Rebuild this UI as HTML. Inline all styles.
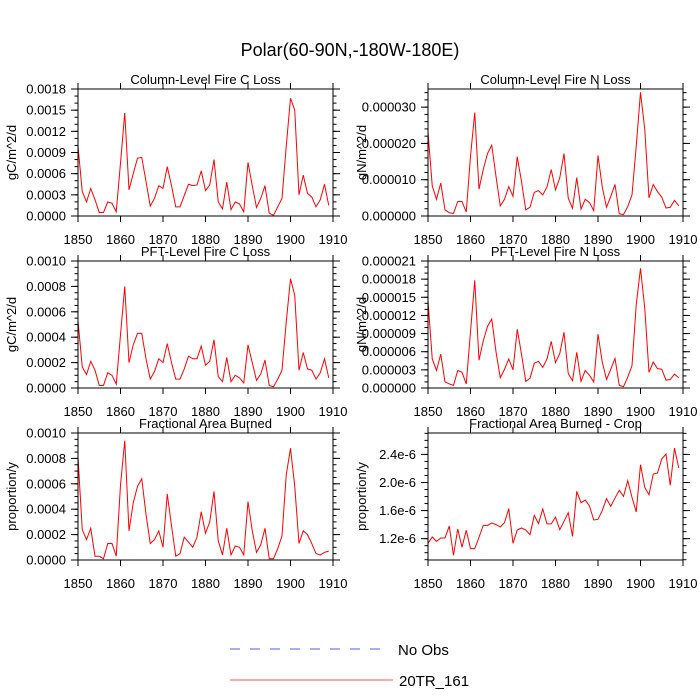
<!DOCTYPE html>
<html><head><meta charset="utf-8"><style>
html,body{margin:0;padding:0;background:#fff;}
svg{display:block;font-family:"Liberation Sans",Arial,sans-serif;}
</style></head><body>
<svg id="chart" width="700" height="700" viewBox="0 0 700 700">
<text x="350" y="56" font-size="18" text-anchor="middle">Polar(60-90N,-180W-180E)</text>
<g id="panels"></g>
<g>
<line x1="230" y1="649" x2="386" y2="649" stroke="#5a5ae6" stroke-width="1" stroke-dasharray="10,10"/>
<text x="398" y="655" font-size="15">No Obs</text>
<line x1="230" y1="680" x2="393" y2="680" stroke="#ff5555" stroke-width="1"/>
<text x="399" y="686" font-size="15">20TR_161</text>
</g>
</svg>
<script>
const years = [];
for (let y = 1850; y <= 1909; y++) years.push(y);
const xTicks = [1850,1860,1870,1880,1890,1900,1910];

const colC = [0.00099,0.000346,0.0002,0.00039,0.00023,0.00005,0.00005,0.0002,0.00018,0.00006,0.00075,0.00146,0.00037,0.0006,0.00082,0.00083,0.00049,0.00014,0.00025,0.00043,0.00039,0.0007,0.00043,0.00013,0.00013,0.00029,0.00045,0.00043,0.00044,0.00064,0.00036,0.00044,0.0008,0.0002,0.0001,0.00048,0.00009,0.0002,0.00017,0.00006,0.00076,0.00043,0.00012,0.00025,0.00043,0.00004,0.00001,0.00013,0.00025,0.00099,0.00167,0.0015,0.0003,0.00058,0.00032,0.00027,0.00013,0.00023,0.00045,0.00015];
const colN = [2.31e-5,0.83e-5,0.46e-5,0.91e-5,0.17e-5,0.09e-5,0.07e-5,0.4e-5,0.4e-5,0.11e-5,1.65e-5,2.85e-5,0.74e-5,1.28e-5,1.72e-5,1.95e-5,1.09e-5,0.28e-5,0.46e-5,0.81e-5,0.54e-5,1.63e-5,0.95e-5,0.17e-5,0.24e-5,0.65e-5,0.7e-5,0.58e-5,0.8e-5,1.28e-5,0.72e-5,1.05e-5,1.72e-5,0.49e-5,0.21e-5,1.06e-5,0.19e-5,0.46e-5,0.37e-5,0.15e-5,1.67e-5,0.8e-5,0.24e-5,0.54e-5,0.87e-5,0.06e-5,0.04e-5,0.26e-5,0.58e-5,1.93e-5,3.41e-5,2.39e-5,0.5e-5,0.87e-5,0.67e-5,0.52e-5,0.22e-5,0.24e-5,0.43e-5,0.28e-5];
const pftC = [0.00053,0.000166,0.000105,0.00021,0.00014,0.00002,0.00002,0.00012,0.0001,0.00003,0.00042,0.0008,0.0002,0.00034,0.00043,0.00043,0.00023,0.00007,0.00013,0.00023,0.0002,0.00035,0.0002,0.00007,0.00007,0.00015,0.00025,0.00023,0.00023,0.00033,0.00018,0.00021,0.00038,0.00009,0.00005,0.00024,0.00005,0.0001,0.00008,0.00004,0.00034,0.0002,0.00006,0.00011,0.00022,0.00002,0.00001,0.00007,0.00014,0.00052,0.00086,0.00073,0.00014,0.00028,0.00015,0.00014,0.00007,0.00012,0.00023,0.00008];
const pftN = [14.4e-6,4.8e-6,2.9e-6,5.6e-6,1.0e-6,0.67e-6,0.44e-6,2.9e-6,2.6e-6,0.67e-6,9.3e-6,17.8e-6,4.6e-6,7.8e-6,10.2e-6,11.4e-6,6.0e-6,1.7e-6,3.1e-6,4.8e-6,3.0e-6,9.7e-6,5.6e-6,1.1e-6,1.6e-6,4.1e-6,4.4e-6,3.4e-6,4.8e-6,7.7e-6,4.2e-6,5.7e-6,9.2e-6,2.4e-6,1.2e-6,5.9e-6,1.1e-6,2.9e-6,2.1e-6,1.0e-6,8.9e-6,4.3e-6,1.4e-6,3.1e-6,4.9e-6,0.44e-6,0.22e-6,1.8e-6,3.7e-6,13.8e-6,19.8e-6,13.2e-6,2.6e-6,4.3e-6,3.2e-6,3.1e-6,1.3e-6,1.4e-6,2.3e-6,1.7e-6];
const fracArea = [0.00081,0.00024,0.00016,0.00025,0.00003,0.00003,0.00001,0.00013,0.00013,0.00003,0.00059,0.00094,0.00023,0.00045,0.00058,0.00064,0.00036,0.00013,0.00016,0.00023,0.0001,0.00052,0.00027,0.00003,0.00005,0.00018,0.00014,0.0001,0.00018,0.00038,0.00021,0.0003,0.00054,0.00015,0.00004,0.00025,0.00004,0.00011,0.0001,0.00004,0.00046,0.00023,0.00006,0.00012,0.00025,0.00001,0.00001,0.00009,0.00019,0.00067,0.00088,0.00058,0.00013,0.00023,0.0002,0.00013,0.00005,0.00004,0.00006,0.00007];
const fracCrop = [1.134e-6,1.224e-6,1.162e-6,1.21e-6,1.21e-6,1.38e-6,0.963e-6,1.338e-6,1.077e-6,1.319e-6,1.058e-6,1.058e-6,1.22e-6,1.39e-6,1.39e-6,1.423e-6,1.4e-6,1.366e-6,1.428e-6,1.628e-6,1.134e-6,1.323e-6,1.352e-6,1.323e-6,1.257e-6,1.532e-6,1.414e-6,1.623e-6,1.41e-6,1.41e-6,1.508e-6,1.328e-6,1.447e-6,1.57e-6,1.233e-6,1.874e-6,1.712e-6,1.75e-6,1.665e-6,1.466e-6,1.475e-6,1.6e-6,1.77e-6,1.66e-6,1.78e-6,1.888e-6,1.803e-6,2.026e-6,1.788e-6,1.58e-6,2.253e-6,1.93e-6,1.826e-6,2.12e-6,2.135e-6,2.334e-6,2.405e-6,1.96e-6,2.49e-6,2.206e-6];

const ticksColC = [0,0.0003,0.0006,0.0009,0.0012,0.0015,0.0018];
const labelsColC = ["0.0000","0.0003","0.0006","0.0009","0.0012","0.0015","0.0018"];
const ticksColN = [0,0.00001,0.00002,0.00003];
const labelsColN = ["0.000000","0.000010","0.000020","0.000030"];
const ticksPftC = [0,0.0002,0.0004,0.0006,0.0008,0.001];
const labelsPftC = ["0.0000","0.0002","0.0004","0.0006","0.0008","0.0010"];
const ticksPftN = [0,3e-6,6e-6,9e-6,12e-6,15e-6,18e-6,21e-6];
const labelsPftN = ["0.000000","0.000003","0.000006","0.000009","0.000012","0.000015","0.000018","0.000021"];
const ticksFrac = [0,0.0002,0.0004,0.0006,0.0008,0.001];
const labelsFrac = ["0.0000","0.0002","0.0004","0.0006","0.0008","0.0010"];
const ticksCrop = [1.2e-6,1.6e-6,2.0e-6,2.4e-6];
const labelsCrop = ["1.2e-6","1.6e-6","2.0e-6","2.4e-6"];

const NS = "http://www.w3.org/2000/svg";
const root = document.getElementById('panels');
function mk(tag, attrs, parent){
  const e = document.createElementNS(NS, tag);
  for (const k in attrs) e.setAttribute(k, attrs[k]);
  parent.appendChild(e);
  return e;
}
const panels = [
  {name:"column-fire-c-loss", title:"Column-Level Fire C Loss", unit:"gC/m^2/d", data:colC, ticks:ticksColC, labels:labelsColC, ymin:0, ymax:0.0018, minor:3, x0:78, y0:89, ytx:12},
  {name:"column-fire-n-loss", title:"Column-Level Fire N Loss", unit:"gN/m^2/d", data:colN, ticks:ticksColN, labels:labelsColN, ymin:0, ymax:0.000035, minor:5, x0:428, y0:89, ytx:362},
  {name:"pft-fire-c-loss", title:"PFT-Level Fire C Loss", unit:"gC/m^2/d", data:pftC, ticks:ticksPftC, labels:labelsPftC, ymin:0, ymax:0.001, minor:4, x0:78, y0:261, ytx:12},
  {name:"pft-fire-n-loss", title:"PFT-Level Fire N Loss", unit:"gN/m^2/d", data:pftN, ticks:ticksPftN, labels:labelsPftN, ymin:0, ymax:21e-6, minor:3, x0:428, y0:261, ytx:362},
  {name:"fractional-area-burned", title:"Fractional Area Burned", unit:"proportion/y", data:fracArea, ticks:ticksFrac, labels:labelsFrac, ymin:0, ymax:0.001, minor:4, x0:78, y0:433, ytx:12},
  {name:"fractional-area-burned-crop", title:"Fractional Area Burned - Crop", unit:"proportion/y", data:fracCrop, ticks:ticksCrop, labels:labelsCrop, ymin:0.896e-6, ymax:2.705e-6, minor:4, x0:428, y0:433, ytx:362}
];
const W = 255, H = 127;
panels.forEach(p => {
  const g = mk('g', {}, root);
  
  
  const xs = v => p.x0 + (v - 1850) / 60 * W;
  const ys = v => p.y0 + H - (v - p.ymin) / (p.ymax - p.ymin) * H;
  const t = mk('text', {x: p.x0 + W/2, y: p.y0 - 5, 'font-size': 13, 'text-anchor': 'middle'}, g);
  t.textContent = p.title;
  
  
  const yt = mk('text', {x: 0, y: 0, 'font-size': 13, 'text-anchor': 'middle', transform: `translate(${p.ytx + 4},${p.y0 + H/2}) rotate(-90)`}, g);
  yt.textContent = p.unit;
  
  
  xTicks.forEach(v => {
    const x = xs(v);
    mk('line', {x1:x, x2:x, y1:p.y0+H, y2:p.y0+H+6, stroke:'#000', 'stroke-width':1}, g);
    mk('line', {x1:x, x2:x, y1:p.y0, y2:p.y0-6, stroke:'#000', 'stroke-width':1}, g);
    const lb = mk('text', {x:x, y:p.y0+H+28, 'font-size':13, 'text-anchor':'middle'}, g);
    lb.textContent = v;
    
    
  });
  const step = p.ticks.length > 1 ? p.ticks[1] - p.ticks[0] : 1;
  const mstep = step / p.minor;
  for (let v = p.ticks[0] - step; v <= p.ymax + 1e-12; v += mstep) {
    if (v < p.ymin - 1e-12) continue;
    const y = ys(v);
    mk('line', {x1:p.x0, x2:p.x0-3.5, y1:y, y2:y, stroke:'#000', 'stroke-width':1}, g);
    mk('line', {x1:p.x0+W, x2:p.x0+W+3.5, y1:y, y2:y, stroke:'#000', 'stroke-width':1}, g);
  }
  p.ticks.forEach((v, i) => {
    const y = ys(v);
    mk('line', {x1:p.x0, x2:p.x0-7, y1:y, y2:y, stroke:'#000', 'stroke-width':1}, g);
    mk('line', {x1:p.x0+W, x2:p.x0+W+7, y1:y, y2:y, stroke:'#000', 'stroke-width':1}, g);
    const lb = mk('text', {x:p.x0-12, y:y+4.5, 'font-size':13, 'text-anchor':'end'}, g);
    lb.textContent = p.labels[i];
    
    
  });
  const pts = p.data.map((v, i) => xs(years[i]).toFixed(2) + ',' + ys(v).toFixed(2)).join(' ');
  const pl = mk('polyline', {points:pts, fill:'none', stroke:'#ff0000', 'stroke-width':1}, g);
  
  
  const fr = mk('rect', {x:p.x0, y:p.y0, width:W, height:H, fill:'none', stroke:'#000', 'stroke-width':1}, g);
  
  
});
</script>
</body></html>
